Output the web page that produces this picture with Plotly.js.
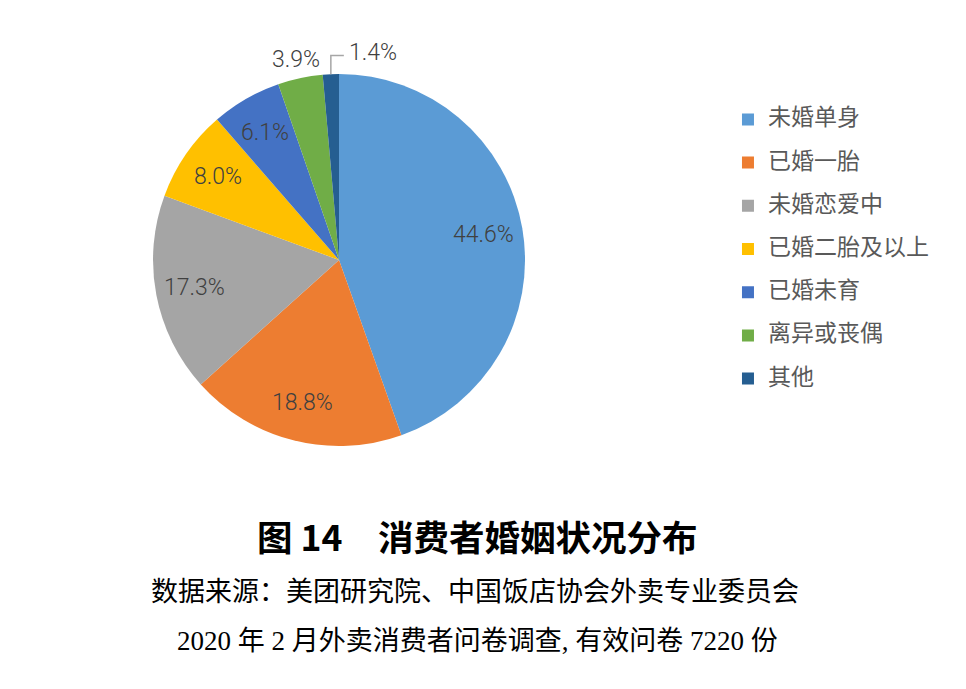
<!DOCTYPE html>
<html>
<head>
<meta charset="utf-8">
<script src="https://cdn.plot.ly/plotly-3.0.1.min.js"></script>
<style>html,body{margin:0;padding:0;background:#fff;}#chart{width:966px;height:689px;}</style>
</head>
<body>
<div id="chart"></div>
<script>
// Data
var categories = ['未婚单身', '已婚一胎', '未婚恋爱中', '已婚二胎及以上', '已婚未育', '离异或丧偶', '其他'];
var values = [44.6, 18.8, 17.3, 8.0, 6.1, 3.9, 1.4];
var valueLabels = ['44.6%', '18.8%', '17.3%', '8.0%', '6.1%', '3.9%', '1.4%'];
var colors = ['#5B9BD5', '#ED7D31', '#A5A5A5', '#FFC000', '#4472C4', '#70AD47', '#255E91'];
// label placement style per slice: 'in' = inside, 'out' = outside, 'leader' = outside with leader line
var labelStyle = ['in', 'in', 'in', 'in', 'in', 'out', 'leader'];

var chartTitle = '图 14\u3000消费者婚姻状况分布';
var sourceLine1 = '数据来源：美团研究院、中国饭店协会外卖专业委员会';
var sourceLine2 = '2020 年 2 月外卖消费者问卷调查, 有效问卷 7220 份';

var W = 966, H = 689;
var pieDomain = {x: [0.1584, 0.5435], y: [0.3527, 0.8926]};

// legend entries: category text plus a blank second line for roomier spacing
var legendLabels = categories.map(function (c) {
  return '<span style="font-size:23px">' + c + '</span><br> ';
});

var trace = {
  type: 'pie',
  labels: legendLabels,
  values: values,
  textinfo: 'none',
  marker: {colors: colors, line: {width: 0}},
  sort: false,
  direction: 'clockwise',
  rotation: 0,
  hoverinfo: 'none',
  domain: pieDomain
};

// Label positions derived from the slice angles of the pie (clockwise from 12 o'clock)
var cxPx = (pieDomain.x[0] + pieDomain.x[1]) / 2 * W;
var cyPx = (1 - (pieDomain.y[0] + pieDomain.y[1]) / 2) * H;
var Rpx = Math.min((pieDomain.x[1] - pieDomain.x[0]) * W, (pieDomain.y[1] - pieDomain.y[0]) * H) / 2;
function toPaperX(px) { return px / W; }
function toPaperY(py) { return 1 - py / H; }

var total = values.reduce(function (a, b) { return a + b; }, 0);
var labelFont = {family: 'Roboto, Liberation Sans, sans-serif', size: 23, color: '#404040', weight: 300};
var annotations = [];
var shapes = [];
var cum = 0;
values.forEach(function (v, i) {
  var mid = (cum + v / 2) / total;
  cum += v;
  var th = 2 * Math.PI * mid;
  var s = Math.sin(th), c = Math.cos(th);
  if (labelStyle[i] === 'in' || labelStyle[i] === 'out') {
    var r = labelStyle[i] === 'in' ? 0.79 * Rpx : 1.1 * Rpx;
    annotations.push({
      text: valueLabels[i], showarrow: false,
      x: toPaperX(cxPx + r * s), y: toPaperY(cyPx - r * c),
      xref: 'paper', yref: 'paper', xanchor: 'center', yanchor: 'middle',
      font: labelFont
    });
  } else {
    var ex = cxPx + Rpx * s, ey = cyPx - Rpx * c;
    var elbowY = cyPx - 1.1 * Rpx;
    var endX = ex + 13;
    shapes.push({
      type: 'path', xref: 'paper', yref: 'paper',
      path: 'M' + toPaperX(ex) + ',' + toPaperY(ey) + ' L' + toPaperX(ex) + ',' + toPaperY(elbowY) +
            ' L' + toPaperX(endX) + ',' + toPaperY(elbowY),
      line: {color: '#A6A6A6', width: 1.5}
    });
    annotations.push({
      text: valueLabels[i], showarrow: false,
      x: toPaperX(endX + 3), y: toPaperY(elbowY - 3),
      xref: 'paper', yref: 'paper', xanchor: 'left', yanchor: 'middle',
      font: labelFont
    });
  }
});

annotations.push(
  {text: sourceLine1, x: 0.492, y: 0.1437, xref: 'paper', yref: 'paper', xanchor: 'center', yanchor: 'middle', showarrow: false,
   font: {family: 'Noto Sans CJK SC, sans-serif', size: 27, color: '#000000'}},
  {text: sourceLine2, x: 0.494, y: 0.0697, xref: 'paper', yref: 'paper', xanchor: 'center', yanchor: 'middle', showarrow: false,
   font: {family: 'Liberation Serif, Noto Sans CJK SC, serif', size: 27, color: '#000000'}}
);

var layout = {
  width: W,
  height: H,
  margin: {l: 0, r: 0, t: 0, b: 0},
  paper_bgcolor: '#ffffff',
  font: {family: 'Noto Sans CJK SC, sans-serif', color: '#595959'},
  showlegend: true,
  legend: {
    x: 0.7536, xanchor: 'left',
    y: 0.8507, yanchor: 'top',
    valign: 'top',
    font: {size: 15.46, color: '#595959', family: 'Noto Sans CJK SC, sans-serif'},
    bgcolor: 'rgba(0,0,0,0)',
    traceorder: 'normal'
  },
  title: {
    text: chartTitle,
    font: {family: 'Noto Sans CJK SC, sans-serif', size: 35.5, color: '#000000', weight: 'bold'},
    x: 0.494, xanchor: 'center',
    y: 0.219, yanchor: 'middle',
    xref: 'paper', yref: 'container'
  },
  annotations: annotations,
  shapes: shapes
};

Plotly.newPlot('chart', [trace], layout, {displayModeBar: false, staticPlot: true});
</script>
</body>
</html>
